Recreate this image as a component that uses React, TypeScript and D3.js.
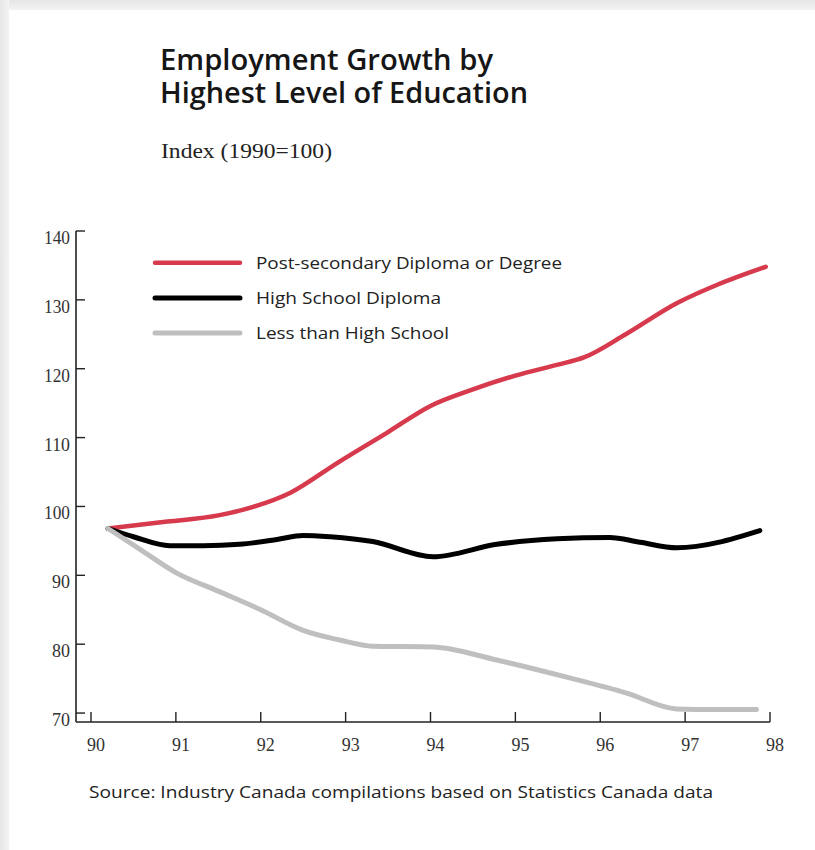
import React from "react";
import * as d3 from "d3";

const years = [90, 91, 92, 93, 94, 95, 96, 97, 98];
const yTicks = [70, 80, 90, 100, 110, 120, 130, 140];

const seriesNames = [
  "Post-secondary Diploma or Degree",
  "High School Diploma",
  "Less than High School",
];
const seriesColors = ["#d63a4c", "#000000", "#bfbfbf"];

const postSecondaryX = [90.2, 90.9, 91.5, 91.9, 92.35, 92.9, 93.5, 94.0, 94.5, 95.0, 95.5, 95.8, 96.3, 96.9, 97.4, 97.95];
const postSecondaryY = [96.8, 97.8, 98.7, 99.9, 102.0, 106.3, 110.8, 114.6, 117.0, 119.0, 120.6, 121.6, 125.0, 129.5, 132.3, 134.8];

const highSchoolX = [90.2, 90.5, 90.93, 91.32, 91.75, 92.19, 92.5, 92.82, 93.32, 94.03, 94.78, 95.49, 96.11, 96.47, 96.9, 97.88];
const highSchoolY = [96.8, 95.6, 94.3, 94.3, 94.5, 95.2, 95.8, 95.6, 94.9, 92.7, 94.5, 95.3, 95.5, 94.8, 94.0, 96.5];

const lessX = [90.2, 90.6, 91.0, 91.5, 92.0, 92.5, 92.93, 93.32, 94.03, 94.78, 95.64, 96.31, 96.9, 97.33, 97.84];
const lessY = [96.8, 93.6, 90.4, 87.7, 85.0, 82.0, 80.6, 79.7, 79.6, 77.7, 75.1, 72.9, 70.6, 70.5, 70.5];

const W = 815;
const H = 850;

export default function App() {
  const x = d3.scaleLinear().domain([90, 98]).range([91, 770]);
  const y = d3.scaleLinear().domain([68.7, 140]).range([722, 231]);

  const line = d3
    .line<[number, number]>()
    .x((d) => x(d[0]))
    .y((d) => y(d[1]))
    .curve(d3.curveMonotoneX);

  const series = [
    postSecondaryX.map((v, i) => [v, postSecondaryY[i]] as [number, number]),
    highSchoolX.map((v, i) => [v, highSchoolY[i]] as [number, number]),
    lessX.map((v, i) => [v, lessY[i]] as [number, number]),
  ];
  const widths = [4.5, 5, 5];

  const sans = "'Open Sans', 'Noto Sans', sans-serif";
  const serif = "'Liberation Serif', 'DejaVu Serif', serif";
  const axisX = 76;
  const axisY = 722;
  const legendY = [262.7, 298, 333];
  const legendLen = [306, 185, 193];

  return (
    <svg
      width={W}
      height={H}
      style={{ position: "absolute", left: 0, top: 0, display: "block" }}
    >
      <defs>
        <linearGradient id="gTop" x1="0" y1="0" x2="0" y2="1">
          <stop offset="0" stopColor="#e6e6e6" />
          <stop offset="1" stopColor="#f3f3f3" />
        </linearGradient>
        <linearGradient id="gLeft" x1="0" y1="0" x2="1" y2="0">
          <stop offset="0" stopColor="#e6e6e6" />
          <stop offset="1" stopColor="#f3f3f3" />
        </linearGradient>
      </defs>
      <rect x={0} y={0} width={W} height={H} fill="#f0f0f0" />
      <rect x={0} y={0} width={W} height={10} fill="url(#gTop)" />
      <rect x={0} y={0} width={9} height={H} fill="url(#gLeft)" />
      <rect x={9} y={10} width={W - 9} height={H - 10} fill="#ffffff" />

      {/* Title */}
      <text fontFamily={sans} fontSize={28} fontWeight={600} fill="#161616" lengthAdjust="spacingAndGlyphs">
        <tspan x={160} y={70} textLength={333} lengthAdjust="spacingAndGlyphs">Employment Growth by</tspan>
        <tspan x={160} y={103} textLength={368} lengthAdjust="spacingAndGlyphs">Highest Level of Education</tspan>
      </text>
      <text x={161} y={158} fontFamily={serif} fontSize={20} fill="#222" textLength={171} lengthAdjust="spacingAndGlyphs">
        Index (1990=100)
      </text>

      {/* Axes */}
      <line x1={axisX} y1={231} x2={axisX} y2={axisY} stroke="#222" strokeWidth={1.6} />
      <line x1={axisX} y1={axisY} x2={770} y2={axisY} stroke="#222" strokeWidth={1.6} />
      {yTicks.map((t) => (
        <g key={"y" + t}>
          <line x1={axisX} x2={axisX + 9} y1={y(t)} y2={y(t)} stroke="#222" strokeWidth={1.4} />
          <text x={70} y={y(t) + 13} textAnchor="end" fontFamily={serif} fontSize={19} fill="#333" textLength={t >= 100 ? 26 : 18} lengthAdjust="spacingAndGlyphs">
            {t}
          </text>
        </g>
      ))}
      {years.map((t) => (
        <g key={"x" + t}>
          <line x1={x(t)} x2={x(t)} y1={axisY} y2={axisY - 10} stroke="#222" strokeWidth={1.4} />
          <text x={x(t) + 5} y={751} textAnchor="middle" fontFamily={serif} fontSize={19} fill="#333" textLength={18} lengthAdjust="spacingAndGlyphs">
            {t}
          </text>
        </g>
      ))}

      {/* Lines */}
      {series.map((s, i) => (
        <path
          key={"s" + i}
          d={line(s) || ""}
          fill="none"
          stroke={seriesColors[i]}
          strokeWidth={widths[i]}
          strokeLinejoin="round"
          strokeLinecap="round"
        />
      ))}

      {/* Legend */}
      {seriesNames.map((n, i) => (
        <g key={"l" + i}>
          <line x1={155} x2={240} y1={legendY[i]} y2={legendY[i]} stroke={seriesColors[i]} strokeWidth={widths[i]} strokeLinecap="round" />
          <text x={256} y={legendY[i] + 6} fontFamily={sans} fontSize={16.5} fontWeight={500} fill="#222" textLength={legendLen[i]} lengthAdjust="spacingAndGlyphs">
            {n}
          </text>
        </g>
      ))}

      {/* Source */}
      <text x={89} y={798} fontFamily={sans} fontSize={17} fontWeight={500} fill="#222" textLength={624} lengthAdjust="spacingAndGlyphs">
        Source: Industry Canada compilations based on Statistics Canada data
      </text>
    </svg>
  );
}
